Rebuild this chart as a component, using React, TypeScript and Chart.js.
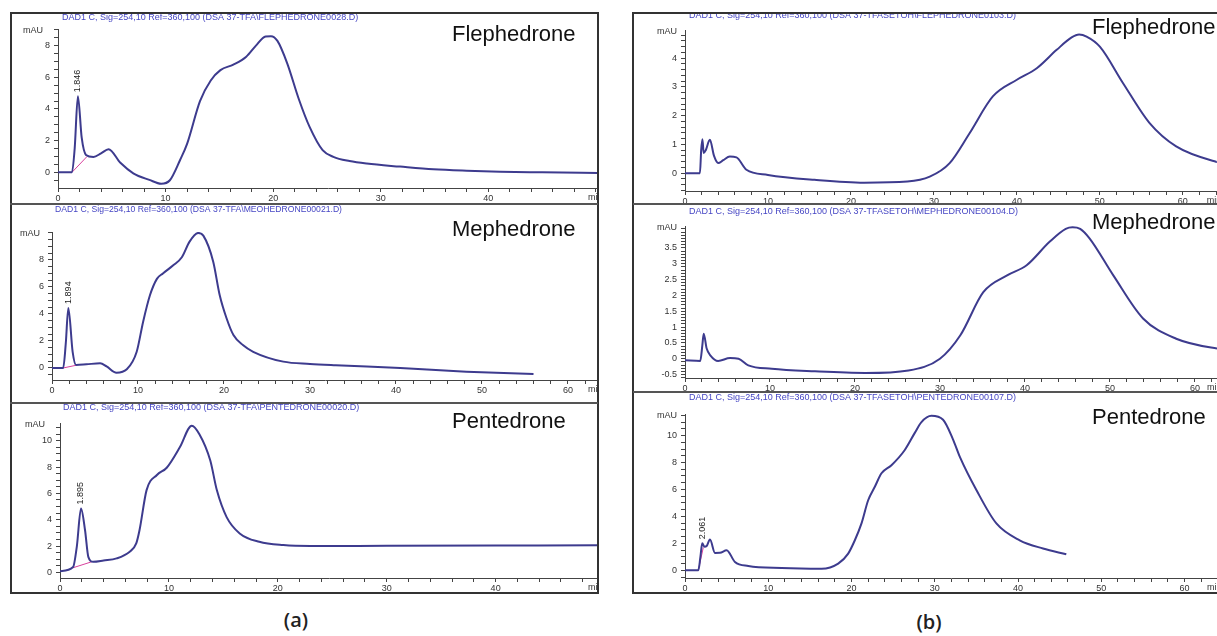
import React, { useEffect, useRef } from "react";
import { Chart, registerables } from "chart.js";

Chart.register(...registerables);

// ---------------- DATA ----------------
// (a) TFA mobile phase
const aFleTime = [0, 1.3, 1.55, 1.85, 2.2, 2.6, 3.3, 4.0, 4.7, 5.8, 7.0, 8.5, 9.6, 10.4, 11.35, 12.0, 13.2, 14.2, 15.1, 16.3, 17.5, 18.4, 19.3, 19.8, 20.4, 21.3, 22.4, 23.4, 24.6, 25.6, 27.1, 28.7, 31.8, 34.9, 38.0, 41.1, 45.0, 50.5];
const aFleSignal = [0, 0, 1.5, 4.8, 2.2, 1.1, 0.97, 1.2, 1.46, 0.6, -0.06, -0.48, -0.72, -0.5, 0.78, 1.8, 4.5, 5.8, 6.45, 6.8, 7.3, 8.0, 8.58, 8.6, 8.3, 6.9, 4.6, 2.85, 1.4, 0.98, 0.71, 0.55, 0.36, 0.19, 0.1, 0.04, 0.0, -0.05];
const aFleBaseTime = [1.3, 2.7];
const aFleBaseSignal = [0, 1.0];

const aMepTime = [0, 1.3, 1.6, 1.9, 2.4, 2.8, 4.0, 5.6, 6.35, 7.5, 8.7, 9.85, 10.6, 11.4, 12.2, 12.9, 14.1, 15.1, 16.0, 17.0, 17.6, 18.75, 19.5, 20.3, 21.1, 22.2, 23.4, 26.9, 30.0, 33.0, 40.5, 48.2, 56.0];
const aMepSignal = [0, 0, 1.8, 4.45, 1.2, 0.22, 0.27, 0.35, 0.12, -0.35, -0.1, 1.2, 3.43, 5.4, 6.6, 7.0, 7.6, 8.2, 9.36, 10.0, 9.8, 7.87, 5.4, 3.68, 2.44, 1.7, 1.2, 0.47, 0.3, 0.2, 0.0, -0.27, -0.45];
const aMepBaseTime = [1.3, 2.8];
const aMepBaseSignal = [0, 0.2];

const aPenTime = [0, 1.2, 1.55, 1.93, 2.3, 2.6, 3.05, 4.0, 5.2, 6.4, 7.0, 7.3, 7.95, 8.9, 9.8, 11.0, 12.1, 12.8, 13.8, 14.4, 15.3, 16.5, 18.3, 20.5, 23.0, 30.0, 40.0, 49.5];
const aPenSignal = [0.08, 0.4, 2.0, 4.86, 3.2, 1.18, 0.8, 0.9, 1.06, 1.57, 2.2, 3.2, 6.25, 7.4, 7.95, 9.5, 11.15, 10.5, 8.5, 6.25, 4.2, 2.96, 2.32, 2.07, 2.0, 2.02, 2.04, 2.05];
const aPenBaseTime = [1.2, 2.9];
const aPenBaseSignal = [0.35, 0.8];

// (b) TFA + EtOH mobile phase
const bFleTime = [0, 1.8, 1.95, 2.1, 2.25, 2.5, 3.0, 3.5, 4.0, 4.6, 5.4, 6.2, 7.4, 10.0, 15.6, 21.6, 26.8, 29.5, 31.9, 34.3, 37.1, 40.0, 42.4, 44.8, 46.6, 47.5, 48.4, 50.0, 52.8, 56.0, 59.2, 64.0, 65.0];
const bFleSignal = [0, 0, 0.8, 1.18, 0.7, 0.8, 1.16, 0.6, 0.35, 0.45, 0.58, 0.55, 0.12, -0.06, -0.23, -0.33, -0.29, -0.12, 0.35, 1.39, 2.67, 3.25, 3.65, 4.29, 4.72, 4.82, 4.75, 4.4, 3.13, 1.74, 0.93, 0.4, 0.35];

const bMepTime = [0, 1.8, 2.04, 2.2, 2.55, 3.0, 3.9, 5.3, 6.3, 7.45, 10.2, 15.3, 21.2, 26.3, 30.0, 32.4, 35.1, 37.9, 40.2, 42.9, 44.8, 45.6, 46.5, 47.6, 50.4, 53.9, 57.8, 62.6, 64.0];
const bMepSignal = [-0.05, -0.07, 0.42, 0.79, 0.32, 0.1, -0.07, 0.02, 0.0, -0.21, -0.32, -0.4, -0.45, -0.37, 0.0, 0.74, 2.1, 2.63, 2.95, 3.69, 4.1, 4.15, 4.1, 3.8, 2.63, 1.27, 0.63, 0.32, 0.28];

const bPenTime = [0, 1.6, 1.85, 2.07, 2.35, 2.6, 3.0, 3.6, 4.2, 5.0, 6.0, 7.6, 11.6, 16.4, 18.4, 19.6, 20.4, 21.2, 22.0, 22.8, 23.6, 24.8, 26.4, 27.6, 28.4, 29.6, 31.0, 32.2, 33.0, 35.0, 37.4, 40.2, 43.0, 45.8];
const bPenSignal = [0, 0, 1.0, 2.0, 1.75, 1.8, 2.28, 1.29, 1.3, 1.49, 0.62, 0.32, 0.17, 0.12, 0.5, 1.24, 2.23, 3.48, 5.2, 6.2, 7.2, 7.8, 8.93, 10.2, 11.0, 11.47, 11.17, 9.7, 8.44, 5.96, 3.48, 2.23, 1.62, 1.19];
const bPenBaseTime = [1.6, 2.2];
const bPenBaseSignal = [0, 1.7];

// tick labels
const xLabelsA40 = [0, 10, 20, 30, 40];
const xLabels60 = [0, 10, 20, 30, 40, 50, 60];
const yLabels0to8 = [0, 2, 4, 6, 8];
const yLabels0to10 = [0, 2, 4, 6, 8, 10];
const yLabels0to4 = [0, 1, 2, 3, 4];
const yLabelsHalf = [-0.5, 0, 0.5, 1, 1.5, 2, 2.5, 3, 3.5];

// peak annotations
const aFlePeak = { time: 1.846, signal: 4.8, label: "1.846" };
const aMepPeak = { time: 1.894, signal: 4.45, label: "1.894" };
const aPenPeak = { time: 1.895, signal: 4.86, label: "1.895" };
const bPenPeak = { time: 2.061, signal: 2.0, label: "2.061" };

// ---------------- STYLE ----------------
const SANS = '"Liberation Sans", Arial, Helvetica, sans-serif';
const LINE = "#3d3b8e";
const BASE = "#d8409c";
const HEADER = "#4646c4";
const AXIS = "#444";

type Peak = { time: number; signal: number; label: string };
type Panel = {
  box: { x: number; y: number; w: number; h: number };
  area: { l: number; t: number; b: number };
  xMax: number;
  yMin: number;
  yMax: number;
  xMinor: number;
  yMinor: number;
  xLabels: number[];
  yLabels: number[];
  time: number[];
  signal: number[];
  baseTime?: number[];
  baseSignal?: number[];
  peak?: Peak;
  unitGap: number;
  name: string;
  nameX: number;
  nameY: number;
  header: string;
  headerX: number;
  headerY: number;
  headerW: number;
};

const panels: Panel[] = [
  {
    box: { x: 10, y: 13, w: 588, h: 191 }, area: { l: 48, t: 16, b: 175 },
    xMax: 50.2, yMin: -0.99, yMax: 9.05, xMinor: 2, yMinor: 0.5,
    xLabels: xLabelsA40, yLabels: yLabels0to8,
    time: aFleTime, signal: aFleSignal, baseTime: aFleBaseTime, baseSignal: aFleBaseSignal, peak: aFlePeak,
    unitGap: 15,
    name: "Flephedrone", nameX: 442, nameY: 22,
    header: "DAD1 C, Sig=254,10 Ref=360,100 (DSA 37-TFA\\FLEPHEDRONE0028.D)", headerX: 52, headerY: 5, headerW: 316,
  },
  {
    box: { x: 10, y: 204, w: 588, h: 199 }, area: { l: 42, t: 28, b: 176 },
    xMax: 63.5, yMin: -0.89, yMax: 10.07, xMinor: 2, yMinor: 0.5,
    xLabels: xLabels60, yLabels: yLabels0to8,
    time: aMepTime, signal: aMepSignal, baseTime: aMepBaseTime, baseSignal: aMepBaseSignal, peak: aMepPeak,
    unitGap: 12,
    name: "Mephedrone", nameX: 442, nameY: 26,
    header: "DAD1 C, Sig=254,10 Ref=360,100 (DSA 37-TFA\\MEOHEDRONE00021.D)", headerX: 45, headerY: 6, headerW: 287,
  },
  {
    box: { x: 10, y: 403, w: 588, h: 190 }, area: { l: 50, t: 20, b: 175 },
    xMax: 49.4, yMin: -0.43, yMax: 11.35, xMinor: 2, yMinor: 0.5,
    xLabels: xLabelsA40, yLabels: yLabels0to10,
    time: aPenTime, signal: aPenSignal, baseTime: aPenBaseTime, baseSignal: aPenBaseSignal, peak: aPenPeak,
    unitGap: 15,
    name: "Pentedrone", nameX: 442, nameY: 19,
    header: "DAD1 C, Sig=254,10 Ref=360,100 (DSA 37-TFA\\PENTEDRONE00020.D)", headerX: 53, headerY: 5, headerW: 320,
  },
  {
    box: { x: 633, y: 13, w: 584, h: 191 }, area: { l: 52, t: 17, b: 178 },
    xMax: 64.1, yMin: -0.62, yMax: 4.98, xMinor: 2, yMinor: 0.2,
    xLabels: xLabels60, yLabels: yLabels0to4,
    time: bFleTime, signal: bFleSignal,
    unitGap: 8,
    name: "Flephedrone", nameX: 459, nameY: 15,
    header: "DAD1 C, Sig=254,10 Ref=360,100 (DSA 37-TFASETOH\\FLEPHEDRONE0103.D)", headerX: 56, headerY: 3, headerW: 346,
  },
  {
    box: { x: 633, y: 204, w: 584, h: 188 }, area: { l: 52, t: 22, b: 174 },
    xMax: 62.6, yMin: -0.61, yMax: 4.19, xMinor: 2, yMinor: 0.1,
    xLabels: xLabels60, yLabels: yLabelsHalf,
    time: bMepTime, signal: bMepSignal,
    unitGap: 8,
    name: "Mephedrone", nameX: 459, nameY: 19,
    header: "DAD1 C, Sig=254,10 Ref=360,100 (DSA 37-TFASETOH\\MEPHEDRONE00104.D)", headerX: 56, headerY: 8, headerW: 349,
  },
  {
    box: { x: 633, y: 392, w: 584, h: 201 }, area: { l: 52, t: 22, b: 186 },
    xMax: 63.9, yMin: -0.57, yMax: 11.6, xMinor: 2, yMinor: 0.5,
    xLabels: xLabels60, yLabels: yLabels0to10,
    time: bPenTime, signal: bPenSignal, baseTime: bPenBaseTime, baseSignal: bPenBaseSignal, peak: bPenPeak,
    unitGap: 8,
    name: "Pentedrone", nameX: 459, nameY: 26,
    header: "DAD1 C, Sig=254,10 Ref=360,100 (DSA 37-TFASETOH\\PENTEDRONE00107.D)", headerX: 56, headerY: 6, headerW: 344,
  },
];

const isLabel = (list: number[], v: number) => list.some((m) => Math.abs(m - v) < 1e-6);

// tick marks on multiples of the minor step inside [min, max]
const stepTicks = (min: number, max: number, step: number) => {
  const out: { value: number }[] = [];
  for (let k = Math.ceil(min / step - 1e-9); k * step <= max + 1e-9; k++) {
    out.push({ value: Math.round(k * step * 10000) / 10000 });
  }
  return out;
};

function PanelChart({ p }: { p: Panel }) {
  const ref = useRef<HTMLCanvasElement>(null);
  useEffect(() => {
    const canvas = ref.current;
    if (!canvas) return;
    const decor = {
      id: "decor",
      afterDraw(chart: any) {
        const ctx = chart.ctx as CanvasRenderingContext2D;
        const a = chart.chartArea;
        const xs = chart.scales.x;
        const ys = chart.scales.y;
        ctx.save();
        ctx.textBaseline = "middle";
        ctx.textAlign = "left";
        ctx.font = `9px ${SANS}`;
        ctx.fillStyle = HEADER;
        ctx.fillText(p.header, p.headerX, p.headerY, p.headerW);
        ctx.font = `22px ${SANS}`;
        ctx.fillStyle = "#111";
        ctx.fillText(p.name, p.nameX, p.nameY);
        ctx.font = `9px ${SANS}`;
        ctx.fillStyle = "#333";
        ctx.textAlign = "right";
        ctx.fillText("mAU", a.left - p.unitGap, a.top + 2);
        ctx.textAlign = "left";
        ctx.fillText("min", a.right - 10, a.bottom + 10);
        if (p.peak) {
          const px = xs.getPixelForValue(p.peak.time);
          const py = ys.getPixelForValue(p.peak.signal);
          ctx.translate(px, py - 4);
          ctx.rotate(-Math.PI / 2);
          ctx.fillStyle = "#222";
          ctx.textAlign = "left";
          ctx.fillText(p.peak.label, 0, 0);
        }
        ctx.restore();
      },
    };
    const datasets: any[] = [
      {
        data: p.time.map((t, i) => ({ x: t, y: p.signal[i] })),
        borderColor: LINE,
        borderWidth: 2,
        pointRadius: 0,
        cubicInterpolationMode: "monotone",
        fill: false,
      },
    ];
    if (p.baseTime && p.baseSignal) {
      datasets.push({
        data: p.baseTime.map((t, i) => ({ x: t, y: p.baseSignal![i] })),
        borderColor: BASE,
        borderWidth: 1,
        pointRadius: 0,
        fill: false,
      });
    }
    const tickFont = { size: 9, family: SANS };
    const chart = new Chart(canvas, {
      type: "line",
      data: { datasets },
      options: {
        responsive: false,
        animation: false,
        events: [],
        layout: { padding: { top: p.area.t, left: 0, right: 0, bottom: 0 } },
        plugins: { legend: { display: false }, tooltip: { enabled: false } },
        scales: {
          x: {
            type: "linear",
            min: 0,
            max: p.xMax,
            afterBuildTicks: (s: any) => {
              s.ticks = stepTicks(0, p.xMax, p.xMinor);
            },
            afterFit: (s: any) => {
              s.height = p.box.h - p.area.b;
            },
            grid: { display: true, drawOnChartArea: false, drawTicks: true, tickLength: 4, color: AXIS },
            border: { display: true, color: AXIS, width: 1 },
            ticks: {
              autoSkip: false,
              maxRotation: 0,
              padding: 1,
              color: "#333",
              font: tickFont,
              callback: (v: any) => (isLabel(p.xLabels, Number(v)) ? String(v) : ""),
            },
          },
          y: {
            type: "linear",
            min: p.yMin,
            max: p.yMax,
            afterBuildTicks: (s: any) => {
              s.ticks = stepTicks(p.yMin, p.yMax, p.yMinor);
            },
            afterFit: (s: any) => {
              s.width = p.area.l;
            },
            grid: { display: true, drawOnChartArea: false, drawTicks: true, tickLength: 4, color: AXIS },
            border: { display: true, color: AXIS, width: 1 },
            ticks: {
              autoSkip: false,
              padding: 4,
              color: "#333",
              font: tickFont,
              callback: (v: any) => (isLabel(p.yLabels, Number(v)) ? String(v) : ""),
            },
          },
        },
      },
      plugins: [decor],
    } as any);
    return () => chart.destroy();
  }, [p]);
  return (
    <canvas
      ref={ref}
      width={p.box.w}
      height={p.box.h}
      style={{ position: "absolute", left: p.box.x, top: p.box.y, width: p.box.w, height: p.box.h }}
    />
  );
}

export default function App() {
  const line = (x: number, y: number, w: number) => (
    <div style={{ position: "absolute", left: x, top: y - 1, width: w, height: 2, background: "#555" }} />
  );
  return (
    <div style={{ position: "fixed", left: 0, top: 0, width: 1217, height: 636, background: "#fff", overflow: "hidden" }}>
      {panels.map((p, i) => (
        <PanelChart key={i} p={p} />
      ))}
      <div style={{ position: "absolute", left: 10, top: 12, width: 589, height: 582, border: "2px solid #333", boxSizing: "border-box" }} />
      <div style={{ position: "absolute", left: 632, top: 12, width: 620, height: 582, border: "2px solid #333", boxSizing: "border-box" }} />
      {line(10, 204, 588)}
      {line(10, 403, 588)}
      {line(633, 204, 600)}
      {line(633, 392, 600)}
      <div style={{ position: "absolute", left: 270, top: 606, width: 52, textAlign: "center", font: `600 20px "Open Sans", sans-serif`, color: "#222" }}>(a)</div>
      <div style={{ position: "absolute", left: 903, top: 608, width: 52, textAlign: "center", font: `600 20px "Open Sans", sans-serif`, color: "#222" }}>(b)</div>
    </div>
  );
}
